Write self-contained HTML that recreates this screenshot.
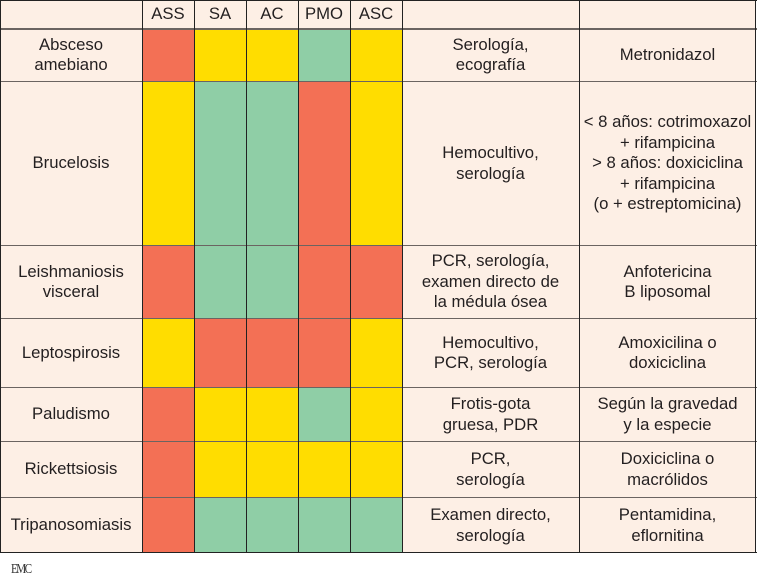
<!DOCTYPE html>
<html><head><meta charset="utf-8"><style>
body{margin:0;width:757px;height:583px;background:#fff;position:relative;overflow:hidden;font-family:"Liberation Sans",sans-serif;}
.c{position:absolute;box-sizing:border-box;display:flex;align-items:center;justify-content:center;text-align:center;font-size:16.7px;line-height:20.5px;color:#231f20;background:#fdefe5;padding-top:1px;}
.hl{position:absolute;background:#6b6461;}
.vl{position:absolute;background:#222;width:1px;}
</style></head><body>
<div id="tbl"></div>
<div style="position:absolute;left:11px;top:562px;font-size:14px;letter-spacing:-2px;color:#333;font-family:'Liberation Serif',serif;transform:scaleX(0.8);transform-origin:left;">EMC</div>
<script>
const rowsY=[0,28,81,245,318,387,441,497,553];
const colsX=[0,142,194,246,298,350,402,579,756];
const headers=["","ASS","SA","AC","PMO","ASC","",""];
const diseases=["Absceso<br>amebiano","Brucelosis","Leishmaniosis<br>visceral","Leptospirosis","Paludismo","Rickettsiosis","Tripanosomiasis"];
const grid=[["R","Y","Y","G","Y"],["Y","G","G","R","Y"],["R","G","G","R","R"],["Y","R","R","R","Y"],["R","Y","Y","G","Y"],["R","Y","Y","Y","Y"],["R","G","G","G","G"]];
const diagnosis=["Serología,<br>ecografía","Hemocultivo,<br>serología","PCR, serología,<br>examen directo de<br>la médula ósea","Hemocultivo,<br>PCR, serología","Frotis-gota<br>gruesa, PDR","PCR,<br>serología","Examen directo,<br>serología"];
const treatment=["Metronidazol","&lt; 8 años: cotrimoxazol<br>+ rifampicina<br>&gt; 8 años: doxiciclina<br>+ rifampicina<br>(o + estreptomicina)","Anfotericina<br>B liposomal","Amoxicilina o<br>doxiciclina","Según la gravedad<br>y la especie","Doxiciclina o<br>macrólidos","Pentamidina,<br>eflornitina"];
const colorMap={R:"#f37055",Y:"#ffdd00",G:"#8fcea6"};
const T=document.getElementById('tbl');
function cell(ci,ri,html,bg){
  const d=document.createElement('div');d.className='c';
  d.style.left=colsX[ci]+'px';d.style.top=rowsY[ri]+'px';
  d.style.width=(colsX[ci+1]-colsX[ci])+'px';d.style.height=(rowsY[ri+1]-rowsY[ri])+'px';
  if(bg)d.style.background=bg;
  d.innerHTML=html;T.appendChild(d);return d;
}
for(let c=0;c<8;c++){
  const d=cell(c,0,headers[c]);
  
  
}
for(let r=0;r<diseases.length;r++){
  const a=cell(0,r+1,diseases[r]);
  
  
  for(let k=0;k<5;k++){
    const g=cell(k+1,r+1,'',colorMap[grid[r][k]]);
    
    
  }
  const b=cell(6,r+1,diagnosis[r]);
  
  
  const t=cell(7,r+1,treatment[r]);
  
  
}
rowsY.forEach((y,i)=>{
  const l=document.createElement('div');l.className='hl';
  
  
  const h=(i==1)?2:1;
  l.style.left='0px';l.style.width='757px';l.style.top=(y-(i==rowsY.length-1?1:0))+'px';l.style.height=h+'px';
  if(i==0||i==rowsY.length-1)l.style.background='#222';
  T.appendChild(l);
});
colsX.forEach((x,i)=>{
  const l=document.createElement('div');l.className='vl';
  
  
  l.style.left=(i==colsX.length-1?x-1:x)+'px';l.style.top='0px';l.style.height='553px';
  T.appendChild(l);
});
</script>
</body></html>
